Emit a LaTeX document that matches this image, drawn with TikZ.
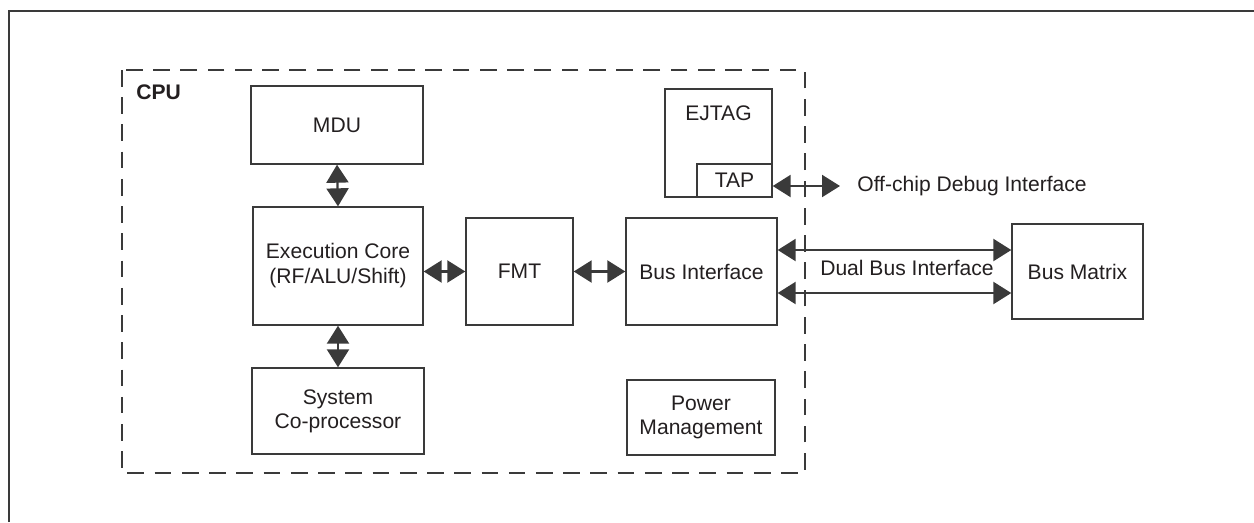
\documentclass[tikz,border=0pt]{standalone}
\usepackage{fontspec}
\setmainfont{Liberation Sans}
\usepackage{xcolor}
\usetikzlibrary{arrows.meta, positioning, calc}
\definecolor{linegray}{HTML}{3A3A3A}
\definecolor{textgray}{HTML}{231F20}
\tikzstyle{block} = [rectangle, draw=linegray, line width=0.8pt, text=textgray, align=center, font=\fontsize{12}{13.5}\selectfont, inner sep=0pt]
\tikzstyle{plain} = [text=textgray, align=center, font=\fontsize{12}{13.5}\selectfont, inner sep=0pt]
\tikzstyle{dblarrow} = [draw=linegray, fill=textgray, line width=1.3pt, {Triangle[length=0.36cm,width=0.44cm]}-{Triangle[length=0.36cm,width=0.44cm]}]

\begin{document}
\begin{tikzpicture}[x=0.02cm, y=-0.02cm]
    \useasboundingbox (0,0) rectangle (1254,522);
    % Figure frame
    \draw[linegray, line width=1.2pt] (9,522) -- (9,11) -- (1254,11);

    % CPU boundary
    \draw[linegray, line width=0.8pt, dash pattern=on 9.5pt off 6pt] (122,70) rectangle (805,473);
    \node[plain, anchor=west, font=\fontsize{12}{13.5}\selectfont\bfseries] (cpu) at (136,92) {CPU};

    % Blocks inside the CPU
    \node[block, minimum width=3.44cm, minimum height=1.56cm] (mdu) at (337,125) {MDU};
    \node[block, minimum width=3.4cm, minimum height=2.36cm, font=\fontsize{12}{14.2}\selectfont] (exec) at (338,266) {Execution Core\\(RF/ALU/Shift)};
    \node[block, minimum width=3.44cm, minimum height=1.72cm] (sysco) at (338,411) {System\\Co-processor};
    \node[block, minimum width=2.14cm, minimum height=2.14cm] (fmt) at (519.5,271.5) {FMT};
    \node[block, minimum width=3.02cm, minimum height=2.14cm] (busif) at (701.5,271.5) {Bus Interface};
    \node[block, minimum width=2.14cm, minimum height=2.16cm] (ejtag) at (718.5,143) {};
    \node[plain] (ejtagtxt) at (718.5,113) {EJTAG};
    \node[block, minimum width=1.5cm, minimum height=0.66cm] (tap) at (734.5,180.5) {TAP};
    \node[block, minimum width=2.96cm, minimum height=1.5cm] (pm) at (701,417.5) {Power\\Management};

    % Outside the CPU
    \node[block, minimum width=2.62cm, minimum height=1.9cm] (busmx) at (1077.5,271.5) {Bus Matrix};
    \node[plain, anchor=west] (offchip) at (857,186) {Off-chip Debug Interface};
    \node[plain] (dualtxt) at (907,268) {Dual Bus Interface};

    % Connections
    \draw[dblarrow] (mdu.south) -- (exec.north);
    \draw[dblarrow] (exec.south) -- (sysco.north);
    \draw[dblarrow] (exec.east |- fmt.west) -- (fmt.west);
    \draw[dblarrow] (fmt.east) -- (busif.west);
    \draw[dblarrow, shorten >=0.34cm] (tap.east |- offchip.west) -- (offchip.west);
    \draw[dblarrow] ([yshift=0.43cm]busif.east) -- ([yshift=0.43cm]busmx.west);
    \draw[dblarrow] ([yshift=-0.43cm]busif.east) -- ([yshift=-0.43cm]busmx.west);
\end{tikzpicture}
\end{document}
